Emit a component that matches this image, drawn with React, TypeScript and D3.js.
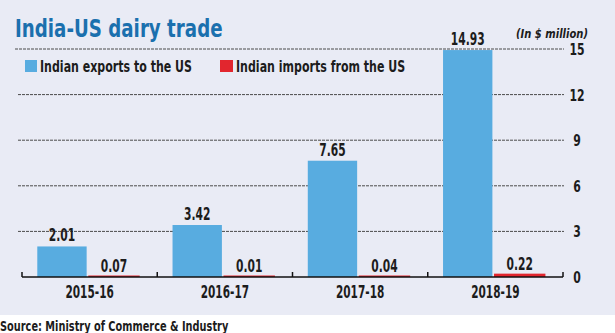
import React from "react";
import * as d3 from "d3";

const categories = ["2015-16", "2016-17", "2017-18", "2018-19"];
const exportsUS = [2.01, 3.42, 7.65, 14.93];
const importsUS = [0.07, 0.01, 0.04, 0.22];
const yTicks = [0, 3, 6, 9, 12, 15];
const seriesNames = ["Indian exports to the US", "Indian imports from the US"];

const W = 615;
const H = 333;
const FONT = "'DejaVu Sans', sans-serif";
const BLUE = "#58ace0";
const RED = "#e2262e";
const TEXT = "#1c1c1c";

type TProps = {
  x: number;
  y: number;
  sx?: number;
  size: number;
  anchor?: "start" | "middle" | "end";
  fill?: string;
  italic?: boolean;
  children: React.ReactNode;
};

function T({ x, y, sx = 0.76, size, anchor = "start", fill = TEXT, italic, children }: TProps) {
  return (
    <text
      transform={`translate(${x},${y}) scale(${sx},1)`}
      fontSize={size}
      fontWeight="bold"
      fontStyle={italic ? "italic" : "normal"}
      fill={fill}
      textAnchor={anchor}
    >
      {children}
    </text>
  );
}

export default function App() {
  const x = d3.scaleBand<string>().domain(categories).range([22, 563]).padding(0);
  const y = d3.scaleLinear().domain([0, 15]).range([277, 49]);
  const bw = x.bandwidth();
  const blueOff = bw * 0.113;
  const blueW = bw * 0.365;
  const redOff = bw * 0.49;
  const redW = bw * 0.38;

  return (
    <svg
      width={W}
      height={H}
      style={{ position: "absolute", left: 0, top: 0 }}
      fontFamily={FONT}
    >
      <rect x={0} y={0} width={W} height={315} fill="#e9ebf5" />
      <rect x={0} y={315} width={W} height={H - 315} fill="#ffffff" />

      {/* gridlines */}
      {yTicks.filter((t) => t > 0).map((t) => (
        <line
          key={t}
          x1={t === 15 ? 15 : 18}
          x2={564}
          y1={y(t)}
          y2={y(t)}
          stroke="#4a4a4a"
          strokeWidth={1}
          strokeDasharray="3,1"
        />
      ))}

      {/* title */}
      <T x={15} y={37} size={25} sx={0.73} fill="#1b70ae">
        India-US dairy trade
      </T>
      <T x={588} y={38} size={13} sx={0.77} anchor="end" italic>
        (In $ million)
      </T>

      {/* legend */}
      <rect x={25} y={60} width={12} height={12} fill={BLUE} />
      <T x={40} y={72} size={16} sx={0.69}>
        {seriesNames[0]}
      </T>
      <rect x={220} y={60} width={13} height={12} fill={RED} />
      <T x={236} y={72} size={16} sx={0.69}>
        {seriesNames[1]}
      </T>

      {/* bars */}
      {categories.map((c, i) => {
        const x0 = x(c)!;
        const ev = exportsUS[i];
        const iv = importsUS[i];
        const ih = Math.max(y(0) - y(iv), 1.5);
        return (
          <g key={c}>
            <rect x={x0 + blueOff} y={y(ev)} width={blueW} height={y(0) - y(ev)} fill={BLUE} />
            <rect x={x0 + redOff} y={y(0) - ih} width={redW} height={ih} fill={RED} />
            <T x={x0 + blueOff + blueW / 2} y={y(ev) - 5} size={17} sx={0.63} anchor="middle">
              {ev.toFixed(2)}
            </T>
            <T x={x0 + redOff + redW / 2} y={y(0) - ih - 4} size={17} sx={0.63} anchor="middle">
              {iv.toFixed(2)}
            </T>
            <T x={x0 + bw / 2} y={298} size={17} sx={0.62} anchor="middle">
              {c}
            </T>
          </g>
        );
      })}

      {/* baseline and ticks */}
      <line x1={22} x2={563} y1={y(0)} y2={y(0)} stroke="#111" strokeWidth={1.5} />
      {[...categories.map((c) => x(c)!), 563].map((tx, i) => (
        <line key={i} x1={tx} x2={tx} y1={y(0)} y2={y(0) - 5} stroke="#111" strokeWidth={1.5} />
      ))}

      {/* y tick labels */}
      {yTicks.map((t) => (
        <T key={t} x={577} y={y(t) + 6} size={16} sx={0.68} anchor="middle">
          {t}
        </T>
      ))}

      {/* source */}
      <T x={0} y={331} size={14} sx={0.7}>
        Source: Ministry of Commerce &amp; Industry
      </T>
    </svg>
  );
}
